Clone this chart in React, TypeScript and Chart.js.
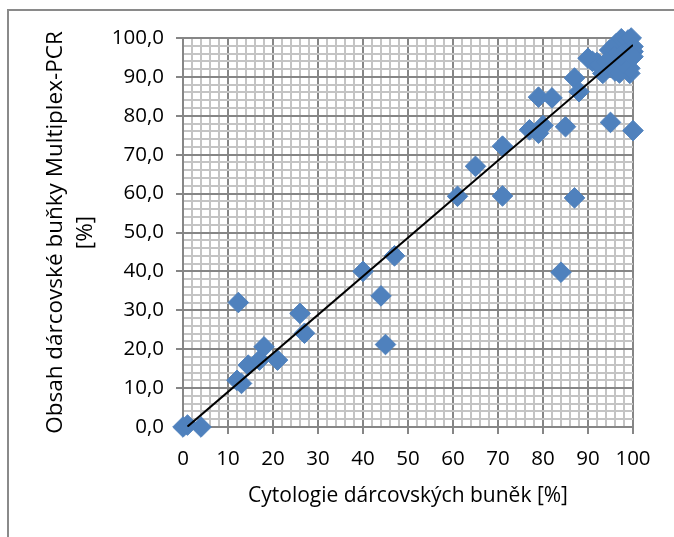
import React, { useEffect, useRef } from "react";
import { Chart, registerables } from "chart.js";

Chart.register(...registerables);

// Scatter data: cytology (x) vs Multiplex-PCR donor-cell content (y)
const xValues: number[] = [
  0, 1, 4,
  12, 13, 14.5, 17, 18, 21, 12.3, 26, 27,
  40, 44, 45, 47,
  61, 65, 71, 71,
  77, 79, 80, 79, 82, 85, 84, 87, 88, 87,
  95, 100,
  90, 92, 93.3, 96, 99.3, 91, 92.6, 95.6, 97, 99.3,
  94.8, 96.3, 97.4, 98.9, 99.6, 100, 98.2, 95.9, 94.1, 97.8, 100, 97.4, 100,
];
const yValues: number[] = [
  0, 0.5, 0,
  12, 11.2, 15.9, 17.2, 20.6, 17.2, 32, 29.2, 24.1,
  40, 33.7, 21.2, 44,
  59.3, 67, 72.2, 59.4,
  76.4, 75.5, 77.5, 84.8, 84.6, 77.2, 39.8, 89.7, 86.2, 58.9,
  78.3, 76.2,
  94.8, 93.7, 90.9, 91.5, 90.9, 94, 93.1, 92.2, 91, 92.2,
  96.9, 98.6, 99.8, 99.5, 100, 97.8, 96.1, 95.2, 93.9, 93.5, 96.5, 95.6, 95.2,
];
// Linear trend line endpoints
const trendX: number[] = [1, 100];
const trendY: number[] = [0.1, 98.2];

const xTitle = "Cytologie dárcovských buněk [%]";
const yTitle = ["Obsah dárcovské buňky Multiplex-PCR", "[%]"];

const MAJOR = "#868686";
const MINOR = "#c4c4c4";
const FONT = "'Open Sans', sans-serif";

const isMajor = (v: number) => Math.round(v) % 10 === 0;

const frame = {
  id: "frame",
  beforeDraw(chart: any) {
    const ctx = chart.ctx;
    ctx.save();
    ctx.strokeStyle = "#8a8a8a";
    ctx.lineWidth = 2;
    ctx.beginPath();
    ctx.moveTo(8, 537);
    ctx.lineTo(8, 10);
    ctx.lineTo(674, 10);
    ctx.stroke();
    ctx.restore();
  },
};

export default function App() {
  const ref = useRef<HTMLCanvasElement>(null);

  useEffect(() => {
    if (!ref.current) return;
    const points = xValues.map((x, i) => ({ x, y: yValues[i] }));
    const trend = trendX.map((x, i) => ({ x, y: trendY[i] }));
    const gridFor = () => ({
      color: (c: any) => (isMajor(c.tick.value) ? MAJOR : MINOR),
      lineWidth: 2,
      tickColor: (c: any) => (isMajor(c.tick.value) ? MAJOR : "rgba(0,0,0,0)"),
      tickLength: 7,
      tickWidth: 2,
    });
    const chart = new Chart(ref.current, {
      type: "scatter",
      data: {
        datasets: [
          {
            type: "line",
            data: trend,
            borderColor: "#000000",
            borderWidth: 2,
            pointRadius: 0,
            fill: false,
          } as any,
          {
            data: points,
            backgroundColor: "#4F81BD",
            borderColor: "#4F81BD",
            borderWidth: 1,
            pointStyle: "rectRot",
            pointRadius: 10.3,
            pointHoverRadius: 10.3,
            clip: false,
          } as any,
        ],
      },
      options: {
        animation: false,
        responsive: false,
        events: [],
        layout: { padding: { left: 0, top: 38, right: 41, bottom: 0 } },
        plugins: { legend: { display: false }, tooltip: { enabled: false } },
        scales: {
          x: {
            type: "linear",
            min: 0,
            max: 100,
            afterFit: (s: any) => {
              s.height = 110;
            },
            border: { display: true, color: MAJOR, width: 2 },
            grid: gridFor(),
            ticks: {
              stepSize: 2,
              autoSkip: false,
              maxRotation: 0,
              padding: 13,
              color: "#000",
              font: { family: FONT, size: 20.5 },
              callback: (v: any) => (isMajor(Number(v)) ? String(Math.round(Number(v))) : ""),
            },
            title: {
              display: true,
              text: xTitle,
              color: "#000",
              font: { family: FONT, size: 21, lineHeight: 1.4 },
              padding: { top: 0, bottom: 26 },
            },
          },
          y: {
            type: "linear",
            min: 0,
            max: 100,
            afterFit: (s: any) => {
              s.width = 183;
            },
            border: { display: true, color: MAJOR, width: 2 },
            grid: gridFor(),
            ticks: {
              stepSize: 2,
              autoSkip: false,
              padding: 12,
              color: "#000",
              font: { family: FONT, size: 20.5 },
              callback: (v: any) =>
                isMajor(Number(v)) ? Math.round(Number(v)).toFixed(1).replace(".", ",") : "",
            },
            title: {
              display: true,
              text: yTitle,
              color: "#000",
              font: { family: FONT, size: 22.5, lineHeight: 1.33 },
              padding: { top: 41, bottom: 0 },
            },
          },
        },
      },
      plugins: [frame],
    });
    return () => chart.destroy();
  }, []);

  return (
    <div style={{ position: "fixed", left: 0, top: 0, width: 674, height: 537, background: "#fff" }}>
      <canvas ref={ref} width={674} height={537} />
    </div>
  );
}
